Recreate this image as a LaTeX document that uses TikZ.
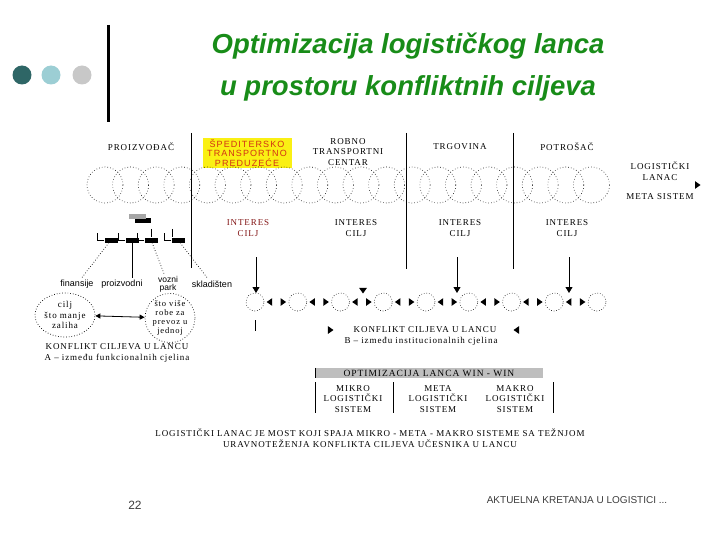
\documentclass[tikz,border=0pt]{standalone}
\usepackage{fontspec}
\setmainfont{Liberation Serif}[LetterSpace=10]
\newfontfamily\arial{Liberation Sans}
\newfontfamily\arialsp{Liberation Sans}[LetterSpace=12]
\usetikzlibrary{arrows.meta,positioning,shapes.geometric}
\definecolor{titlegreen}{RGB}{24,140,24}
\definecolor{darkteal}{RGB}{46,102,102}
\definecolor{paleblue}{RGB}{156,206,212}
\definecolor{palegray}{RGB}{200,200,200}
\definecolor{boxyellow}{RGB}{250,240,20}
\definecolor{boxred}{RGB}{210,50,20}
\definecolor{darkred}{RGB}{130,20,20}
\definecolor{footgray}{RGB}{60,60,60}
\definecolor{headgray}{RGB}{190,190,190}

\begin{document}
\begin{tikzpicture}
  [x=1pt,y=-1pt,every node/.style={inner sep=0pt,align=center,font=\fontsize{9}{10.5}\selectfont}]
  \tikzstyle{link} = [draw,circle,dash pattern=on .6pt off 2.2pt,line width=.6pt,minimum size=36pt]
  \tikzstyle{ring} = [draw,circle,dash pattern=on .6pt off 2pt,line width=.6pt,minimum size=18pt]
  \tikzstyle{tip} = [fill,isosceles triangle,isosceles triangle apex angle=70,minimum size=5.5pt]
  \tikzstyle{tipl} = [tip,shape border rotate=180]
  \tikzstyle{tipr} = [tip]
  \tikzstyle{tipd} = [tip,shape border rotate=270]
  \tikzstyle{bar} = [fill,minimum width=13pt,minimum height=5pt]
  \tikzstyle{lab} = [font=\arial\fontsize{9}{9}\selectfont,inner sep=2pt]
  \tikzstyle{dot} = [circle,minimum size=19pt]
  \tikzstyle{down} = [-{Triangle[length=6pt,width=7pt]},line width=.8pt]
  \useasboundingbox (0,0) rectangle (720,540);

  % title
  \node[dot,fill=darkteal] (g1) at (22,75) {};
  \node[dot,fill=paleblue] (g2) at (51,75) {};
  \node[dot,fill=palegray] (g3) at (82,75) {};
  \draw[line width=3pt] (108,25) -- (108,122);
  \node[font=\arial\bfseries\itshape\fontsize{27.5}{32}\selectfont,text=titlegreen] (t1) at (408,46) {Optimizacija logističkog lanca};
  \node[font=\arial\bfseries\itshape\fontsize{27.5}{32}\selectfont,text=titlegreen] (t2) at (408,88) {u prostoru konfliktnih ciljeva};

  % participants
  \node (pr) at (141,147) {PROIZVOĐAČ};
  \node[fill=boxyellow,minimum width=89pt,minimum height=30pt,text=boxred,
        font=\arialsp\fontsize{9}{9.5}\selectfont] (sp) at (247,153) {ŠPEDITERSKO\\TRANSPORTNO\\PREDUZEĆE};
  \node (rc) at (348,152) {ROBNO\\TRANSPORTNI\\CENTAR};
  \node (tr) at (460,147) {TRGOVINA};
  \node (po) at (567,147) {POTROŠAČ};
  \node (ll) at (660,171) {LOGISTIČKI\\LANAC};
  \node (ms) at (660,197) {META SISTEM};
  \node[tipr] (mt) at (697,185) {};
  \foreach \x/\yb in {191/268,406/269,513/269}
    \draw[line width=.8pt] (\x,133) -- (\x,\yb);

  % chain
  \foreach \i in {0,...,19}
    \node[link] (c\i) at ({105+25.6*\i},185) {};

  \node[text=darkred] (i1) at (248,228) {INTERES\\CILJ};
  \node (i2) at (356,228) {INTERES\\CILJ};
  \node (i3) at (460,228) {INTERES\\CILJ};
  \node (i4) at (567,228) {INTERES\\CILJ};

  % lower chain
  \foreach \i in {1,...,9}
    \node[ring] (r\i) at ({255+42.75*(\i-1)},302) {};
  \foreach \i/\j in {1/2,2/3,3/4,4/5,5/6,6/7,7/8,8/9} {
    \node[tipl,right=2pt of r\i] {};
    \node[tipr,left=2pt of r\j] {};
  }
  \foreach \x/\n in {256/1,457/2,569/3} {
    \coordinate (u\n) at (\x,257);
    \coordinate (d\n) at (\x,293);
    \draw[down] (u\n) -- (d\n);
  }
  \node[tipd] (sd) at (363,290) {};
  \coordinate (r1tail) at (255,331);
  \draw[line width=.8pt] ([yshift=-9pt]r1.south) -- (r1tail);

  \node (kb) at (425,330) {KONFLIKT CILJEVA U LANCU};
  \node[tipr] (kbl) at (330,330) {};
  \node[tipl] (kbr) at (517,330) {};
  \node (kb2) at (421,341) {B -- između institucionalnih cjelina};

  % functions of the producer
  \node[fill=black,minimum width=16pt,minimum height=5pt] (hs) at (142.5,221) {};
  \node[fill=black!35,minimum width=17pt,minimum height=5pt] (hb) at (137,216.5) {};
  \foreach \n/\x in {b1/111,b2/132,b3/151,b4/178} {
    \node[bar] (\n) at (\x,240) {};
    \draw[line width=.5pt] (\n.west) -- ++(-7,0) -- ++(0,-7);
  }
  \draw[line width=.5pt] (151,229) -- (151,237);
  \draw[line width=.5pt] (172,229) -- (172,237);

  \node[lab] (f) at (77,284) {finansije};
  \node[lab] (p) at (122,284) {proizvodni};
  \node[lab,font=\arial\fontsize{8.5}{8}\selectfont] (v) at (168,284) {vozni\\park};
  \node[lab] (s) at (212,284) {skladišten};
  \draw[dotted,line width=.7pt] (b1) -- (f);
  \draw[line width=.8pt] (b2.south) -- (b2.south |- p.north);
  \draw[dotted,line width=.7pt] (b3) -- (v);
  \draw[dotted,line width=.7pt] (b4) -- (s);

  \node[draw,ellipse,dotted,line width=.7pt,minimum width=60pt,minimum height=44pt,
        font=\fontsize{9}{10.5}\selectfont] (e1) at (65,315) {cilj\\što manje\\zaliha};
  \node[draw,ellipse,dotted,line width=.7pt,minimum width=50pt,minimum height=48pt,
        font=\fontsize{8.5}{9}\selectfont] (e2) at (170,318) {što više\\robe za\\prevoz u\\jednoj};
  \draw[{Triangle[length=5pt,width=5pt]}-{Triangle[length=5pt,width=5pt]},line width=.8pt] (e1) -- (e2);

  \node (ka) at (117,347) {KONFLIKT CILJEVA U LANCU};
  \node (ka2) at (117,358) {A -- između funkcionalnih cjelina};

  % win-win table
  \node[fill=headgray,minimum width=227pt,minimum height=10pt,font=\fontsize{9.5}{9}\selectfont] (hd) at (429,373) {OPTIMIZACIJA LANCA WIN - WIN};
  \draw[line width=1pt] (hd.north west) -- (hd.south west);
  \node (mi) at (353,399) {MIKRO\\LOGISTIČKI\\SISTEM};
  \node (me) at (438,399) {META\\LOGISTIČKI\\SISTEM};
  \node (ma) at (515,399) {MAKRO\\LOGISTIČKI\\SISTEM};
  \foreach \x in {315,393,553}
    \draw[line width=1pt] (\x,382) -- (\x,413);

  \node (z1) at (370,433) {LOGISTIČKI LANAC JE MOST KOJI SPAJA MIKRO - META - MAKRO SISTEME SA TEŽNJOM};
  \node (z2) at (370,444) {URAVNOTEŽENJA KONFLIKTA CILJEVA UČESNIKA U LANCU};

  % footer
  \node[font=\arial\fontsize{12}{14}\selectfont,text=footgray] (pg) at (135,505) {22};
  \node[font=\arial\fontsize{10}{12}\selectfont,text=footgray] (ft) at (577,500) {AKTUELNA KRETANJA U LOGISTICI ...};
\end{tikzpicture}
\end{document}
